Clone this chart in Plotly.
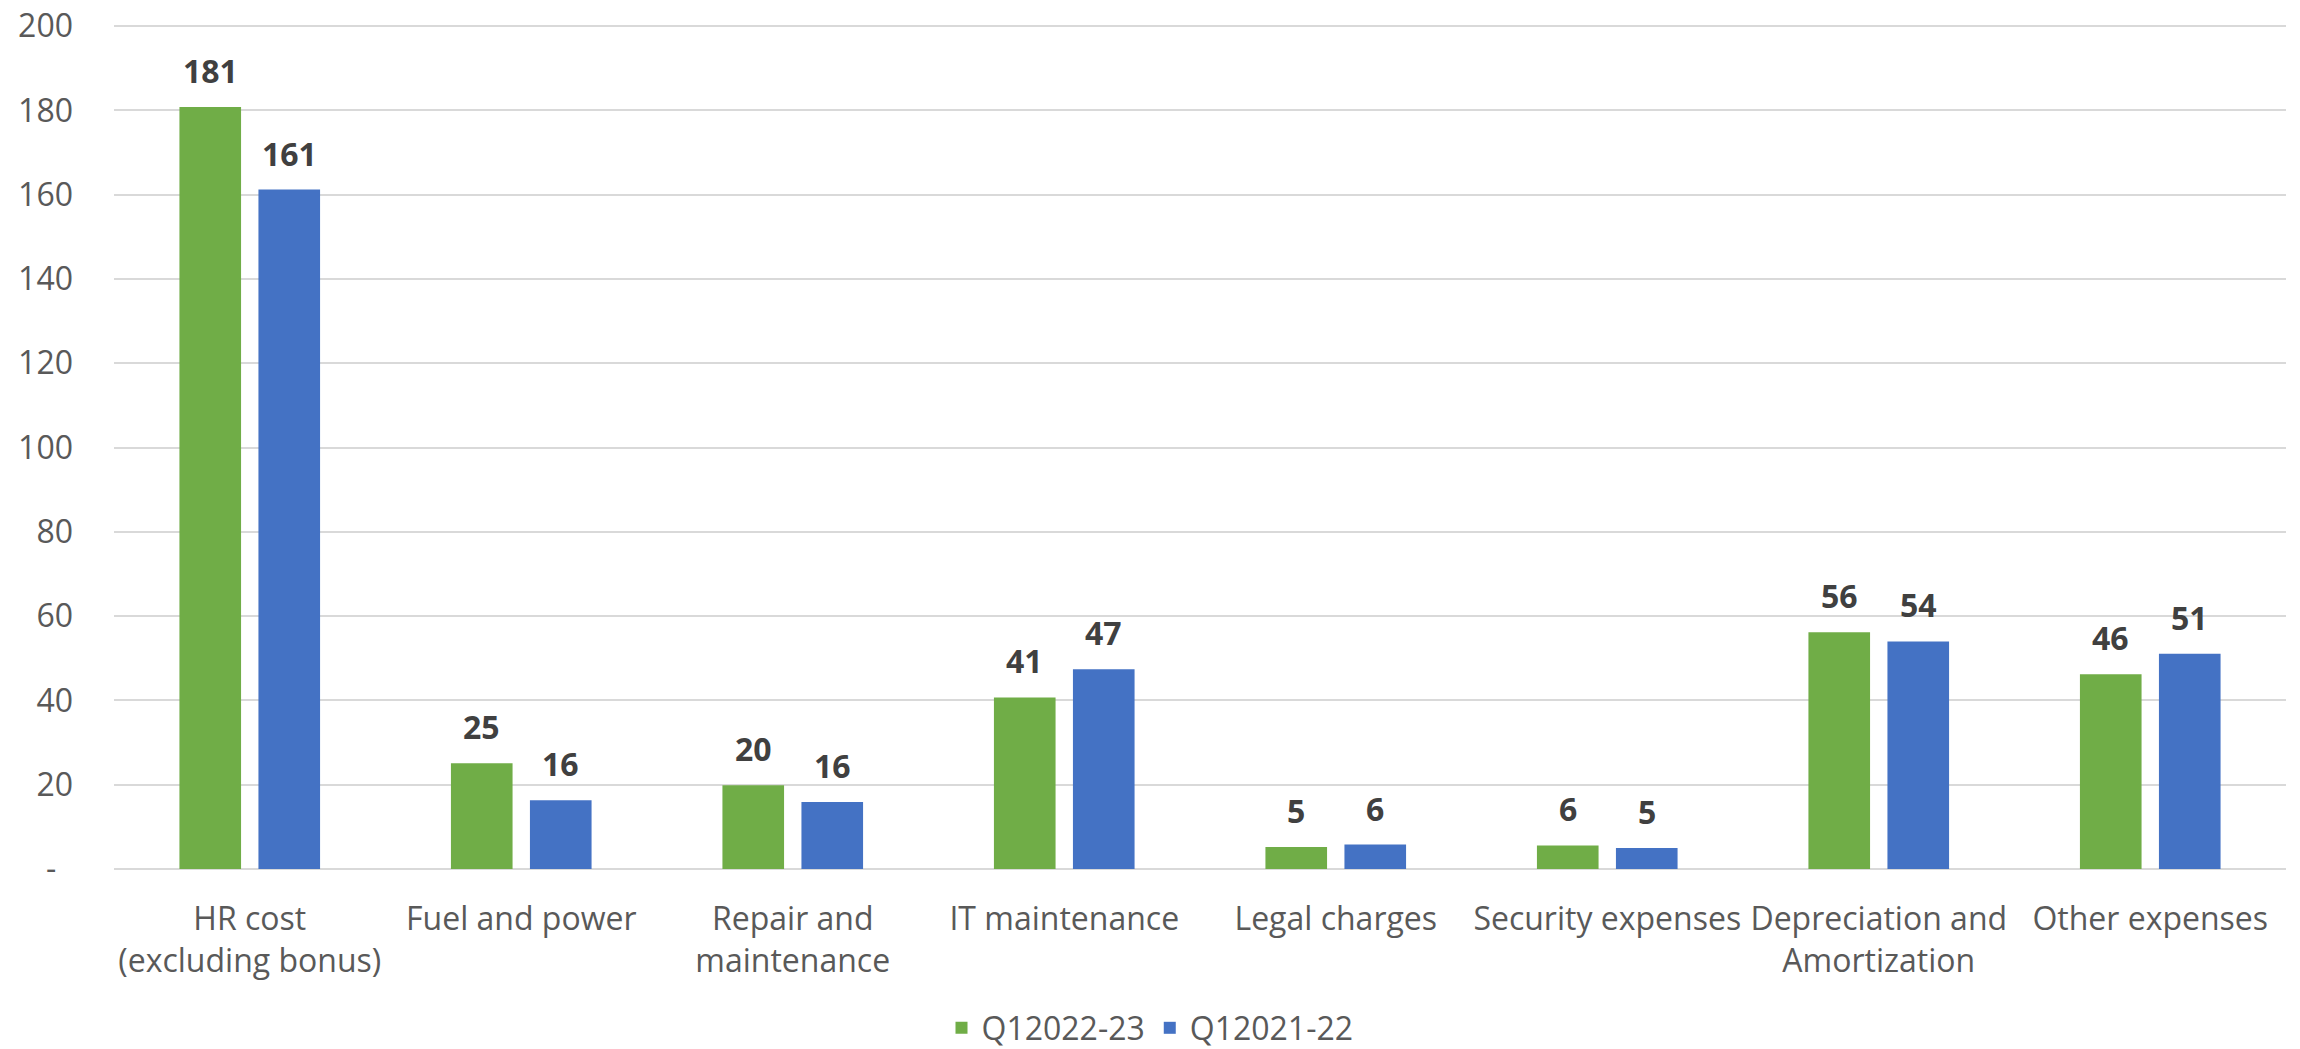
import plotly.graph_objects as go

categories = [
    "HR cost<br>(excluding bonus)",
    "Fuel and power",
    "Repair and<br>maintenance",
    "IT maintenance",
    "Legal charges",
    "Security expenses",
    "Depreciation and<br>Amortization",
    "Other expenses",
]
q1_2022_23 = [180.8, 25.1, 19.9, 40.7, 5.2, 5.6, 56.2, 46.2]
q1_2021_22 = [161.2, 16.3, 15.9, 47.4, 5.8, 5.0, 54.0, 51.1]
series_names = ["Q12022-23", "Q12021-22"]
tick_vals = [0, 20, 40, 60, 80, 100, 120, 140, 160, 180, 200]
tick_text = ["-\u00a0\u00a0", "20", "40", "60", "80", "100", "120", "140", "160", "180", "200"]

GREEN = "#70AD47"
BLUE = "#4472C4"
FONT = "Open Sans"

fig = go.Figure()
fig.add_trace(go.Bar(x=categories, y=q1_2022_23, name=series_names[0],
                     marker=dict(color=GREEN, line=dict(width=0))))
fig.add_trace(go.Bar(x=categories, y=q1_2021_22, name=series_names[1],
                     marker=dict(color=BLUE, line=dict(width=0))))

# data labels
for vals, shift in ((q1_2022_23, -39.5), (q1_2021_22, 39.5)):
    for c, v in zip(categories, vals):
        fig.add_annotation(x=c, y=v, text=f"{v:.0f}", showarrow=False,
                           xref="x", yref="y", xshift=shift, yshift=13,
                           yanchor="bottom",
                           font=dict(family=FONT, size=32, color="#404040", weight="bold"))

fig.update_layout(
    width=2300, height=1049,
    margin=dict(l=114, r=14, t=25, b=180, autoexpand=False),
    paper_bgcolor="white", plot_bgcolor="white",
    barmode="group", bargap=0.418, bargroupgap=0.22,
    font=dict(family=FONT, size=32, color="#595959"),
    showlegend=True,
    legend=dict(orientation="h", xref="container", yref="container",
                x=0.5, xanchor="center", y=1 - 1028 / 1049, yanchor="middle",
                font=dict(family=FONT, size=32, color="#595959"),
                itemwidth=30, tracegroupgap=0),
)
fig.update_yaxes(range=[0, 200.25], tickvals=tick_vals, ticktext=tick_text,
                 showgrid=True, gridcolor="#D9D9D9", gridwidth=2,
                 zeroline=True, zerolinecolor="#D9D9D9", zerolinewidth=2,
                 showline=False, ticks="", ticklabelstandoff=40,
                 ticklabeloverflow="allow", automargin=False,
                 tickfont=dict(family=FONT, size=32, color="#595959"))
fig.update_xaxes(showgrid=False, showline=False, ticks="", ticklabelstandoff=28,
                 automargin=False,
                 tickfont=dict(family=FONT, size=32, color="#595959"))

fig.write_html("out.html")
